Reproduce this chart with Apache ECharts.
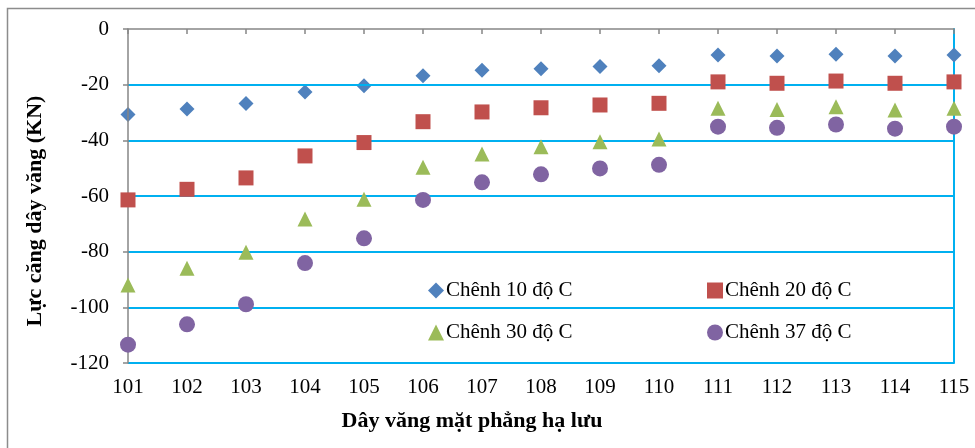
<!DOCTYPE html>
<html>
<head>
<meta charset="utf-8">
<script src="https://cdn.jsdelivr.net/npm/echarts@6/dist/echarts.min.js"></script>
<style>
html,body{margin:0;padding:0;background:#fff;}
#chart{width:975px;height:448px;}
</style>
</head>
<body>
<div id="chart"></div>
<script>
const categories = ['101','102','103','104','105','106','107','108','109','110','111','112','113','114','115'];
const seriesNames = ['Chênh 10 độ C','Chênh 20 độ C','Chênh 30 độ C','Chênh 37 độ C'];
const s10 = [-30.7,-28.7,-26.8,-22.6,-20.4,-16.8,-14.8,-14.3,-13.5,-13.2,-9.3,-9.7,-9.1,-9.7,-9.3];
const s20 = [-61.4,-57.6,-53.5,-45.6,-40.8,-33.3,-29.8,-28.3,-27.3,-26.7,-19.0,-19.5,-18.7,-19.5,-19.0];
const s30 = [-92.0,-86.0,-80.2,-68.3,-61.2,-49.7,-44.9,-42.3,-40.5,-39.5,-28.5,-28.9,-27.9,-29.1,-28.5];
const s37 = [-113.4,-106.1,-98.9,-84.1,-75.2,-61.4,-55.1,-52.2,-50.1,-48.8,-35.1,-35.5,-34.3,-35.8,-35.1];
const xTitle = 'Dây văng mặt phẳng hạ lưu';
const yTitle = 'Lực căng dây văng (KN)';

const FONT = '"Liberation Serif", "DejaVu Serif", serif';
const colors = ['#4F81BD','#C0504D','#9BBB59','#8064A2'];
const symbols = ['diamond','rect','triangle','circle'];
const sizes = [15,15,15,16];
const allData = [s10,s20,s30,s37];

const chart = echarts.init(document.getElementById('chart'));

const legendPos = [
  {left: 428, top: 280},
  {left: 707, top: 280},
  {left: 428, top: 322},
  {left: 707, top: 322}
];

const option = {
  animation: false,
  backgroundColor: '#fff',
  grid: {left: 128, right: 21, top: 29, bottom: 85, containLabel: false},
  legend: seriesNames.map((n, i) => ({
    data: [n],
    left: legendPos[i].left,
    top: legendPos[i].top,
    padding: 0,
    itemWidth: 16,
    itemHeight: 16,
    itemGap: 0,
    textStyle: {fontFamily: FONT, fontSize: 21, color: '#000', padding: [0,0,0,-3]},
    selectedMode: false
  })),
  xAxis: [
    {
      type: 'category',
      data: categories,
      boundaryGap: false,
      position: 'top',
      z: 5,
      axisLine: {show: true, onZero: false, lineStyle: {color: '#868686', width: 1.5}},
      axisTick: {show: true, inside: true, length: 5, lineStyle: {color: '#868686', width: 1.5}},
      axisLabel: {show: false},
      splitLine: {show: false}
    },
    {
      type: 'category',
      data: categories,
      boundaryGap: false,
      position: 'bottom',
      axisLine: {show: false},
      axisTick: {show: false},
      axisLabel: {show: true, fontFamily: FONT, fontSize: 21, color: '#000', margin: 14, interval: 0},
      splitLine: {show: false}
    }
  ],
  yAxis: [
    {
      type: 'value',
      min: -120,
      max: 0,
      interval: 20,
      position: 'left',
      z: 4,
      axisLine: {show: true, onZero: false, lineStyle: {color: '#868686', width: 1.5}},
      axisTick: {show: true, length: 5, lineStyle: {color: '#868686', width: 1.5}},
      axisLabel: {fontFamily: FONT, fontSize: 21, color: '#000', margin: 19},
      splitLine: {show: true, showMaxLine: false, lineStyle: {color: '#00B0F0', width: 2}}
    },
    {
      type: 'value',
      min: -120,
      max: 0,
      interval: 20,
      position: 'right',
      z: 3,
      axisLine: {show: true, onZero: false, lineStyle: {color: '#00B0F0', width: 2}},
      axisTick: {show: false},
      axisLabel: {show: false},
      splitLine: {show: false}
    }
  ],
  graphic: [
    {
      type: 'rect',
      shape: {x: 7.5, y: 8.5, width: 1000, height: 500},
      style: {fill: 'none', stroke: '#8c8c8c', lineWidth: 1.5},
      silent: true,
      z: 100
    },
    {
      type: 'text',
      x: 35, y: 211,
      rotation: Math.PI / 2,
      style: {text: yTitle, font: 'bold 22px ' + FONT, fill: '#000', textAlign: 'center', textVerticalAlign: 'middle'}
    },
    {
      type: 'text',
      x: 472, y: 421,
      style: {text: xTitle, font: 'bold 22px ' + FONT, fill: '#000', textAlign: 'center', textVerticalAlign: 'middle'}
    }
  ],
  series: seriesNames.map((n, i) => ({
    name: n,
    type: 'scatter',
    xAxisIndex: 0,
    yAxisIndex: 0,
    data: allData[i],
    symbol: symbols[i],
    symbolSize: sizes[i],
    itemStyle: {color: colors[i], opacity: 1},
    z: 3 + i
  }))
};
chart.setOption(option);
</script>
</body>
</html>
